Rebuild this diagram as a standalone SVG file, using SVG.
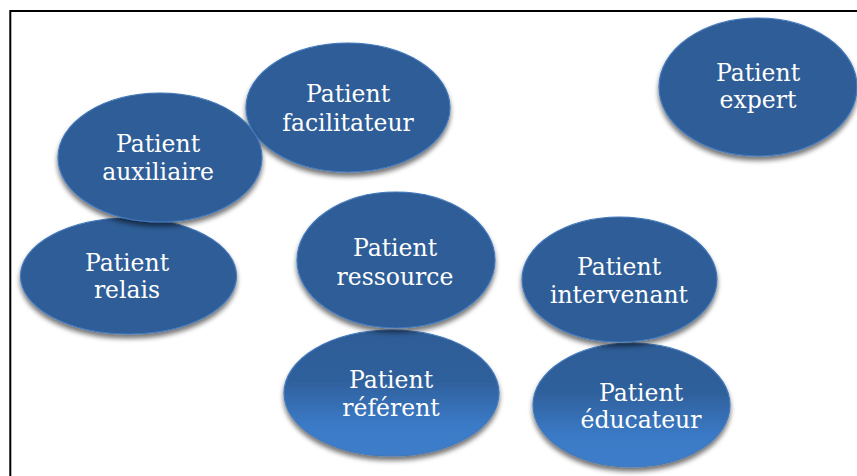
<svg xmlns="http://www.w3.org/2000/svg" width="857" height="476" viewBox="0 0 857 476">
  <defs>
    <filter id="shadow" x="-20%" y="-20%" width="140%" height="150%">
      <feGaussianBlur in="SourceAlpha" stdDeviation="2.5"/>
      <feOffset dx="0" dy="4" result="blur"/>
      <feComponentTransfer><feFuncA type="linear" slope="0.55"/></feComponentTransfer>
      <feMerge><feMergeNode/><feMergeNode in="SourceGraphic"/></feMerge>
    </filter>
    <linearGradient id="lowerFill" x1="0" y1="0" x2="0" y2="1">
      <stop offset="0" stop-color="#2D5C96"/>
      <stop offset="0.4" stop-color="#2F609C"/>
      <stop offset="0.75" stop-color="#3B7AC6"/>
      <stop offset="1" stop-color="#3D7DCA"/>
    </linearGradient>
  </defs>
  <style>
    .bubble { fill: #2E5D97; stroke: #4279BC; stroke-width: 1.2; filter: url(#shadow); }
    .bubble.lower { fill: url(#lowerFill); }
    .label { font-family: "DejaVu Serif", "Liberation Serif", serif; font-size: 23.5px; fill: #FFFFFF; text-anchor: middle; }
  </style>

  <!-- frame -->
  <rect x="10.3" y="11" width="900" height="500" fill="none" stroke="#000" stroke-width="2"/>

  <g id="connectors"/>

  <g id="facilitateur">
    <ellipse class="bubble" cx="348" cy="107.5" rx="102" ry="64.5"/>
    <text class="label" x="348" y="102">Patient</text>
    <text class="label" x="348" y="131">facilitateur</text>
  </g>

  <g id="relais">
    <ellipse class="bubble" cx="128.5" cy="276" rx="108" ry="58"/>
    <text class="label" x="127" y="271">Patient</text>
    <text class="label" x="127" y="298">relais</text>
  </g>

  <g id="auxiliaire">
    <ellipse class="bubble" cx="160" cy="157.5" rx="102" ry="64.5"/>
    <text class="label" x="158" y="152">Patient</text>
    <text class="label" x="158" y="180">auxiliaire</text>
  </g>

  <g id="expert">
    <ellipse class="bubble" cx="758" cy="87" rx="99" ry="69"/>
    <text class="label" x="758" y="81">Patient</text>
    <text class="label" x="758" y="108">expert</text>
  </g>

  <g id="referent">
    <ellipse class="bubble lower" cx="391.5" cy="393" rx="107.5" ry="63"/>
    <text class="label" x="391" y="388">Patient</text>
    <text class="label" x="391" y="416">référent</text>
  </g>

  <g id="ressource">
    <ellipse class="bubble" cx="396" cy="260" rx="99" ry="68"/>
    <text class="label" x="395" y="256">Patient</text>
    <text class="label" x="395" y="285">ressource</text>
  </g>

  <g id="educateur">
    <ellipse class="bubble lower" cx="631.5" cy="405" rx="98.5" ry="62"/>
    <text class="label" x="641" y="401">Patient</text>
    <text class="label" x="641" y="428">éducateur</text>
  </g>

  <g id="intervenant">
    <ellipse class="bubble" cx="619.5" cy="279.5" rx="97.5" ry="62.5"/>
    <text class="label" x="619" y="275">Patient</text>
    <text class="label" x="619" y="303">intervenant</text>
  </g>
</svg>
